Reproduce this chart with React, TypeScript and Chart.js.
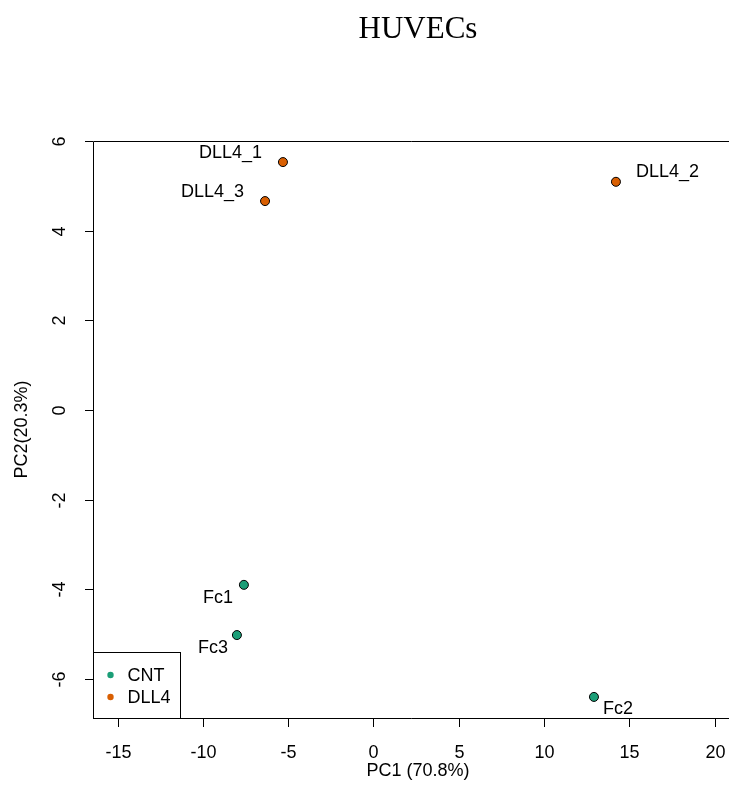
import React, { useEffect, useRef } from "react";
import { Chart, registerables } from "chart.js";

Chart.register(...registerables);

// ---- data ----
const groups = ["CNT", "DLL4"];
const groupColors = ["#1B9E77", "#D95F02"];
const cntLabels = ["Fc1", "Fc2", "Fc3"];
const cntPC1 = [-7.6, 12.93, -8.01];
const cntPC2 = [-3.9, -6.4, -5.02];
const dllLabels = ["DLL4_1", "DLL4_2", "DLL4_3"];
const dllPC1 = [-5.31, 14.22, -6.36];
const dllPC2 = [5.53, 5.09, 4.66];
const xTicks = [-15, -10, -5, 0, 5, 10, 15, 20];
const yTicks = [-6, -4, -2, 0, 2, 4, 6];
const titleText = "HUVECs";
const xTitle = "PC1 (70.8%)";
const yTitle = "PC2(20.3%)";

// label placement (style): align, dx, dy in px relative to point
const labelStyle: Record<string, [CanvasTextAlign, number, number]> = {
  DLL4_1: ["right", -21, -9],
  DLL4_2: ["left", 20, -10],
  DLL4_3: ["right", -21, -9],
  Fc1: ["right", -11, 13],
  Fc2: ["left", 9, 12],
  Fc3: ["right", -9, 13],
};

const SANS = "'Liberation Sans', Arial, sans-serif";
const SERIF = "'Liberation Serif', 'Times New Roman', serif";

const decorPlugin = {
  id: "rdecor",
  afterDatasetsDraw(chart: any) {
    const ctx = chart.ctx as CanvasRenderingContext2D;
    const { left, top, bottom, right } = chart.chartArea;
    const xs = chart.scales.x;
    const ys = chart.scales.y;
    ctx.save();
    ctx.strokeStyle = "#000";
    ctx.lineWidth = 1;
    // box (right edge lies outside the canvas)
    ctx.beginPath();
    ctx.moveTo(right + 20, top + 0.5);
    ctx.lineTo(left + 0.5, top + 0.5);
    ctx.lineTo(left + 0.5, bottom + 0.5);
    ctx.lineTo(right + 20, bottom + 0.5);
    ctx.stroke();

    ctx.fillStyle = "#000";
    ctx.font = `18px ${SANS}`;
    // x ticks
    ctx.textAlign = "center";
    ctx.textBaseline = "middle";
    xTicks.forEach((t) => {
      const px = Math.round(xs.getPixelForValue(t)) + 0.5;
      ctx.beginPath();
      ctx.moveTo(px, bottom);
      ctx.lineTo(px, bottom + 9);
      ctx.stroke();
      ctx.fillText(String(t), px, bottom + 35);
    });
    // y ticks
    yTicks.forEach((t) => {
      const py = Math.round(ys.getPixelForValue(t)) + 0.5;
      ctx.beginPath();
      ctx.moveTo(left - 8, py);
      ctx.lineTo(left, py);
      ctx.stroke();
      ctx.save();
      ctx.translate(left - 33, py);
      ctx.rotate(-Math.PI / 2);
      ctx.fillText(String(t), 0, 0);
      ctx.restore();
    });
    // axis titles
    const midX = 418;
    ctx.fillText(xTitle, midX, 771);
    ctx.save();
    ctx.translate(22, (top + bottom) / 2);
    ctx.rotate(-Math.PI / 2);
    ctx.fillText(yTitle, 0, 0);
    ctx.restore();
    // title
    ctx.font = `31px ${SERIF}`;
    ctx.fillText(titleText, midX, 30);

    // point labels
    ctx.font = `18px ${SANS}`;
    const all = [
      { labels: cntLabels, xv: cntPC1, yv: cntPC2 },
      { labels: dllLabels, xv: dllPC1, yv: dllPC2 },
    ];
    all.forEach((g) => {
      g.labels.forEach((lab, i) => {
        const px = xs.getPixelForValue(g.xv[i]);
        const py = ys.getPixelForValue(g.yv[i]);
        const st = labelStyle[lab];
        ctx.textAlign = st[0];
        ctx.fillText(lab, px + st[1], py + st[2]);
      });
    });

    // legend
    const lx = left + 0.5;
    const lTop = 652.5;
    ctx.fillStyle = "#fff";
    ctx.fillRect(lx, lTop, 87, bottom - lTop);
    ctx.strokeRect(lx, lTop, 87, bottom + 0.5 - lTop);
    ctx.textAlign = "left";
    groups.forEach((gname, i) => {
      const cy = 675 + i * 22;
      ctx.fillStyle = groupColors[i];
      ctx.beginPath();
      ctx.arc(lx + 17, cy, 3.2, 0, Math.PI * 2);
      ctx.fill();
      ctx.fillStyle = "#000";
      ctx.fillText(gname, lx + 34, cy + 1);
    });
    ctx.restore();
  },
};

export default function App() {
  const ref = useRef<HTMLCanvasElement>(null);
  useEffect(() => {
    document.body.style.margin = "0";
    const canvas = ref.current!;
    const mk = (xv: number[], yv: number[]) => xv.map((x, i) => ({ x, y: yv[i] }));
    const chart = new Chart(canvas, {
      type: "scatter",
      data: {
        datasets: [
          {
            label: groups[0],
            data: mk(cntPC1, cntPC2),
            backgroundColor: groupColors[0],
            borderColor: "#000",
            borderWidth: 1,
            pointRadius: 4.5,
          },
          {
            label: groups[1],
            data: mk(dllPC1, dllPC2),
            backgroundColor: groupColors[1],
            borderColor: "#000",
            borderWidth: 1,
            pointRadius: 4.5,
          },
        ],
      },
      options: {
        responsive: false,
        animation: false,
        layout: { autoPadding: false, padding: { left: 93, top: 141, right: 0, bottom: 94 } },
        plugins: { legend: { display: false }, tooltip: { enabled: false }, title: { display: false } },
        scales: {
          x: { type: "linear", display: false, min: -16.45, max: 20.85 },
          y: { type: "linear", display: false, min: -6.87, max: 6.0 },
        },
      },
      plugins: [decorPlugin],
    });
    return () => chart.destroy();
  }, []);
  return (
    <div style={{ width: 729, height: 812, background: "#fff" }}>
      <canvas ref={ref} width={729} height={812} style={{ display: "block" }} />
    </div>
  );
}
